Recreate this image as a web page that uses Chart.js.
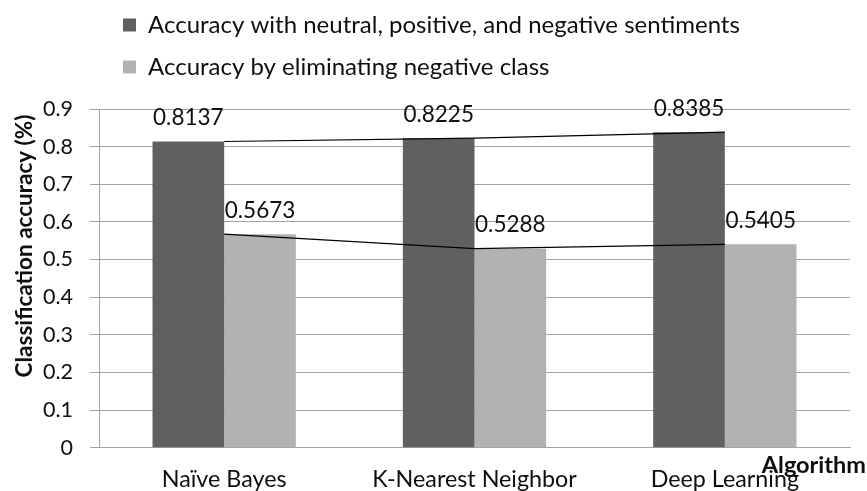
<!DOCTYPE html>
<html>
<head>
<meta charset="utf-8">
<script src="https://cdn.jsdelivr.net/npm/chart.js@4.4.1/dist/chart.umd.min.js"></script>
<style>
html, body { margin: 0; padding: 0; background: #ffffff; }
#wrap { width: 867px; height: 491px; position: relative; }
</style>
</head>
<body>
<div id="wrap"><canvas id="c" width="867" height="491"></canvas></div>
<script>
// ---- data ----
const categories = ['Naïve Bayes', 'K-Nearest Neighbor', 'Deep Learning'];
const seriesNames = [
  'Accuracy with neutral, positive, and negative sentiments',
  'Accuracy by eliminating negative class'
];
const accuracyAll = [0.8137, 0.8225, 0.8385];
const accuracyNoNegative = [0.5673, 0.5288, 0.5405];
const yTickValues = [0, 0.1, 0.2, 0.3, 0.4, 0.5, 0.6, 0.7, 0.8, 0.9];
const yTitle = 'Classification accuracy (%)';
const xTitle = 'Algorithm';

// ---- style ----
const DARK = '#606060';
const LIGHT = '#b2b2b2';
const GRID = '#a3a3a3';
const TEXT = '#0f0f0f';
const FONT = 'Lato';

Chart.defaults.font.family = FONT;
Chart.defaults.color = TEXT;

// add space under the legend and nudge it right
const legendGap = {
  id: 'legendGap',
  beforeLayout(chart) {
    const lg = chart.legend;
    if (lg && !lg._gapWrapped) {
      const f = lg.fit;
      lg.fit = function () { f.call(this); this.height += 20; };
      lg._gapWrapped = true;
    }
  },
  afterLayout(chart) {
    if (chart.legend) { chart.legend.left += 6; chart.legend.right += 6; }
  }
};

const valueLabels = {
  id: 'valueLabels',
  afterDatasetsDraw(chart) {
    const ctx = chart.ctx;
    ctx.save();
    ctx.font = '22.5px ' + FONT;
    ctx.fillStyle = TEXT;
    ctx.textAlign = 'center';
    ctx.textBaseline = 'alphabetic';
    chart.data.datasets.forEach((ds, di) => {
      if (ds.type !== 'bar') return;
      const meta = chart.getDatasetMeta(di);
      meta.data.forEach((el, i) => {
        ctx.fillText(ds.data[i].toFixed(4), el.x, el.y - 16.5);
      });
    });
    ctx.restore();
  }
};

const axisTitles = {
  id: 'axisTitles',
  afterDraw(chart) {
    const ctx = chart.ctx;
    ctx.save();
    ctx.fillStyle = TEXT;
    ctx.font = 'bold 22.5px ' + FONT;
    ctx.textAlign = 'center';
    ctx.textBaseline = 'alphabetic';
    ctx.translate(32, 246);
    ctx.rotate(-Math.PI / 2);
    ctx.fillText(yTitle, 0, 0);
    ctx.restore();

    ctx.save();
    ctx.fillStyle = TEXT;
    ctx.font = 'bold 23.5px ' + FONT;
    ctx.textAlign = 'right';
    ctx.textBaseline = 'alphabetic';
    ctx.fillText(xTitle, 866, 473);
    ctx.restore();
  }
};

new Chart(document.getElementById('c'), {
  data: {
    labels: categories,
    datasets: [
      { type: 'line', label: 'trend1', data: accuracyAll, borderColor: '#000', borderWidth: 1.2,
        pointRadius: 0, fill: false, tension: 0, order: 0 },
      { type: 'line', label: 'trend2', data: accuracyNoNegative, borderColor: '#000', borderWidth: 1.2,
        pointRadius: 0, fill: false, tension: 0, order: 0 },
      { type: 'bar', label: seriesNames[0], data: accuracyAll, backgroundColor: DARK,
        borderWidth: 0, barPercentage: 1, categoryPercentage: 0.5725, order: 1 },
      { type: 'bar', label: seriesNames[1], data: accuracyNoNegative, backgroundColor: LIGHT,
        borderWidth: 0, barPercentage: 1, categoryPercentage: 0.5725, order: 1 }
    ]
  },
  options: {
    responsive: false,
    devicePixelRatio: 1,
    animation: false,
    layout: { padding: { top: -5, right: 17, bottom: 0, left: 0 } },
    plugins: {
      tooltip: { enabled: false },
      legend: {
        position: 'top',
        align: 'start',
        fullSize: false,
        labels: {
          boxWidth: 13,
          boxHeight: 13,
          padding: 18,
          color: TEXT,
          font: { size: 24, family: FONT },
          filter: (item, data) => data.datasets[item.datasetIndex].type === 'bar'
        }
      }
    },
    scales: {
      x: {
        type: 'category',
        offset: true,
        grid: { display: false, drawTicks: false },
        border: { display: true, color: GRID, width: 1 },
        ticks: { padding: 18, color: TEXT, font: { size: 23.3, family: FONT }, maxRotation: 0, autoSkip: false },
        afterFit: (s) => { s.height = 43.3; }
      },
      y: {
        type: 'linear',
        min: 0,
        max: 0.9,
        grid: { color: GRID, lineWidth: 1, drawTicks: true, tickLength: 9, tickColor: GRID },
        border: { display: true, color: GRID, width: 1 },
        afterBuildTicks: (s) => { s.ticks = yTickValues.map(v => ({ value: v })); },
        ticks: {
          padding: 17,
          color: TEXT,
          font: { size: 21.5, family: FONT },
          callback: (v) => String(Number(v.toFixed(1)))
        },
        afterFit: (s) => { s.width = 99; }
      }
    }
  },
  plugins: [legendGap, valueLabels, axisTitles]
});
</script>
</body>
</html>
